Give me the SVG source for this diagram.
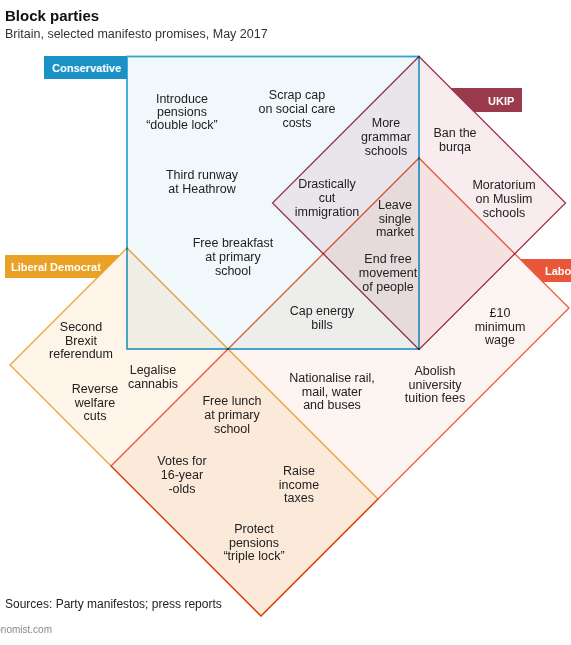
<svg xmlns="http://www.w3.org/2000/svg" width="571" height="645" viewBox="0 0 571 645">
<style>
.t{font-family:"Liberation Sans",Arial,sans-serif;font-size:12.5px;fill:#222222;text-anchor:middle}
.lab{font-family:"Liberation Sans",Arial,sans-serif;font-size:11px;font-weight:bold;fill:#ffffff}
.shape{mix-blend-mode:multiply;stroke-linejoin:miter}
</style>
<rect width="571" height="645" fill="#ffffff"/>
<text x="5" y="21" font-family="Liberation Sans,Arial,sans-serif" font-size="15" font-weight="bold" fill="#111">Block parties</text>
<text x="5" y="38" font-family="Liberation Sans,Arial,sans-serif" font-size="12.5" fill="#333">Britain, selected manifesto promises, May 2017</text>

<g id="conservative">
<rect class="shape" x="127" y="56.5" width="292" height="292.5" fill="#f0f8fb" stroke="#3aa2d3" stroke-width="1.8"/>
<rect x="44" y="56" width="83" height="23" fill="#1a92c7"/>
<text class="lab" x="52" y="72">Conservative</text>
</g>
<g id="ukip">
<polygon class="shape" points="419,56.5 565.5,203 419,349.5 272.5,203" fill="#f8ecee" stroke="#9a3a4c" stroke-width="1.3"/>
<polygon points="450,88 522,88 522,112 474,112" fill="#9c3a4d"/>
<text class="lab" x="488" y="104.5">UKIP</text>
</g>
<g id="labour">
<polygon class="shape" points="419,158 569,308 261,616 111,466" fill="#fcf4f0" stroke="#ea5a3c" stroke-width="1.3"/>
<polygon points="520,259 571,259 571,282 543,282" fill="#e9573a"/>
<text class="lab" x="545" y="275">Labour</text>
</g>
<g id="libdem">
<polygon class="shape" points="127,248 378,499 261,616 10,365" fill="#fef4e8" stroke="#e9a537" stroke-width="1.3"/>
<polygon points="5,255 120,255 97,278 5,278" fill="#e9a126"/>
<text class="lab" x="11" y="271">Liberal Democrat</text>
</g>
<g id="connectors"></g>

<g id="texts">
<text class="t" x="182" y="103">Introduce<tspan x="182" dy="13">pensions</tspan><tspan x="182" dy="13">“double lock”</tspan></text>
<text class="t" x="297" y="99">Scrap cap<tspan x="297" dy="14">on social care</tspan><tspan x="297" dy="14">costs</tspan></text>
<text class="t" x="202" y="179">Third runway<tspan x="202" dy="14">at Heathrow</tspan></text>
<text class="t" x="233" y="247">Free breakfast<tspan x="233" dy="14">at primary</tspan><tspan x="233" dy="14">school</tspan></text>
<text class="t" x="386" y="127">More<tspan x="386" dy="14">grammar</tspan><tspan x="386" dy="14">schools</tspan></text>
<text class="t" x="327" y="188">Drastically<tspan x="327" dy="14">cut</tspan><tspan x="327" dy="14">immigration</tspan></text>
<text class="t" x="395" y="209">Leave<tspan x="395" dy="13.5">single</tspan><tspan x="395" dy="13.5">market</tspan></text>
<text class="t" x="388" y="263">End free<tspan x="388" dy="14">movement</tspan><tspan x="388" dy="14">of people</tspan></text>
<text class="t" x="322" y="315">Cap energy<tspan x="322" dy="14">bills</tspan></text>
<text class="t" x="455" y="137">Ban the<tspan x="455" dy="13.5">burqa</tspan></text>
<text class="t" x="504" y="189">Moratorium<tspan x="504" dy="14">on Muslim</tspan><tspan x="504" dy="14">schools</tspan></text>
<text class="t" x="500" y="317">£10<tspan x="500" dy="13.5">minimum</tspan><tspan x="500" dy="13.5">wage</tspan></text>
<text class="t" x="81" y="331">Second<tspan x="81" dy="13.5">Brexit</tspan><tspan x="81" dy="13.5">referendum</tspan></text>
<text class="t" x="95" y="393">Reverse<tspan x="95" dy="13.5">welfare</tspan><tspan x="95" dy="13.5">cuts</tspan></text>
<text class="t" x="153" y="374">Legalise<tspan x="153" dy="13.5">cannabis</tspan></text>
<text class="t" x="332" y="382">Nationalise rail,<tspan x="332" dy="13.5">mail, water</tspan><tspan x="332" dy="13.5">and buses</tspan></text>
<text class="t" x="435" y="375">Abolish<tspan x="435" dy="13.5">university</tspan><tspan x="435" dy="13.5">tuition fees</tspan></text>
<text class="t" x="232" y="405">Free lunch<tspan x="232" dy="14">at primary</tspan><tspan x="232" dy="14">school</tspan></text>
<text class="t" x="182" y="465">Votes for<tspan x="182" dy="14">16-year</tspan><tspan x="182" dy="14">-olds</tspan></text>
<text class="t" x="299" y="475">Raise<tspan x="299" dy="13.5">income</tspan><tspan x="299" dy="13.5">taxes</tspan></text>
<text class="t" x="254" y="533">Protect<tspan x="254" dy="13.5">pensions</tspan><tspan x="254" dy="13.5">“triple lock”</tspan></text>
</g>

<text x="5" y="608" font-family="Liberation Sans,Arial,sans-serif" font-size="12" fill="#222">Sources: Party manifestos; press reports</text>
<text x="52" y="633" text-anchor="end" font-family="Liberation Sans,Arial,sans-serif" font-size="10" fill="#888">Economist.com</text>
</svg>
